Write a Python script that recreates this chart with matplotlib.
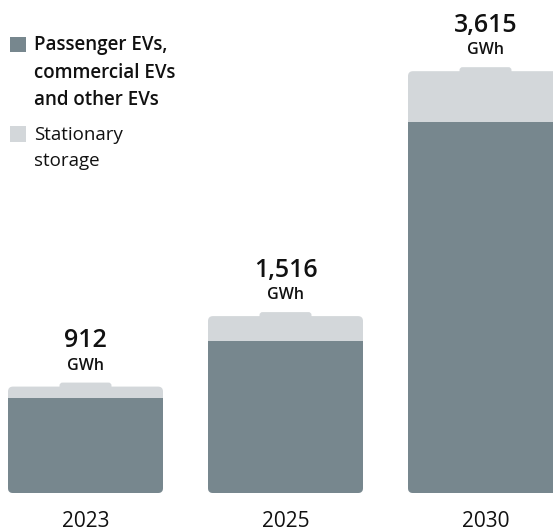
import matplotlib
matplotlib.use("Agg")
import matplotlib.pyplot as plt
from matplotlib.patches import FancyBboxPatch, Rectangle

plt.rcParams['font.family'] = ['Open Sans', 'DejaVu Sans']

years = ["2023", "2025", "2030"]
ev = [815, 1300, 3180]
storage = [97, 216, 435]
totals = [912, 1516, 3615]
total_labels = ["912", "1,516", "3,615"]
legend_labels = ["Passenger EVs,\ncommercial EVs\nand other EVs", "Stationary\nstorage"]

DARK = "#77878e"
LIGHT = "#d3d7da"

W, H = 553, 531
fig = plt.figure(figsize=(W / 100, H / 100), dpi=100)
bottom_px = 38
ax = fig.add_axes([0, bottom_px / H, 1, (H - bottom_px) / H])
px_y = 8.57            # GWh per pixel
px_x = 1 / 200.0       # category units per pixel
ax.set_ylim(0, (H - bottom_px) * px_y)
ax.set_xlim(-85.5 * px_x, (W - 85.5) * px_x)
for s in ax.spines.values():
    s.set_visible(False)
ax.set_yticks([])

bw = 155 * px_x
aspect = px_y / px_x
r = 5 * px_x
tab_w = 52 * px_x
tab_h = 4 * px_y

for i, (e, s, t) in enumerate(zip(ev, storage, totals)):
    tot = e + s
    tab = FancyBboxPatch((i - tab_w / 2, tot - 20 * px_y), tab_w, 20 * px_y + tab_h,
                         boxstyle=f"round,pad=0,rounding_size={3 * px_x}",
                         mutation_aspect=aspect, fc=LIGHT, ec="none", zorder=1)
    ax.add_patch(tab)
    body = FancyBboxPatch((i - bw / 2, 0), bw, tot,
                          boxstyle=f"round,pad=0,rounding_size={r}",
                          mutation_aspect=aspect, fc=LIGHT, ec="none", zorder=2)
    ax.add_patch(body)
    bars = ax.bar(i, e, width=bw, color=DARK, zorder=3)
    for b in bars:
        b.set_clip_path(body)
    ax.annotate("GWh", (i, tot + tab_h), xytext=(0, 17), textcoords="offset pixels",
                ha="center", va="center", fontsize=11.5, fontweight="semibold", color="#111111")
    ax.annotate(total_labels[i], (i, tot + tab_h), xytext=(0, 42), textcoords="offset pixels",
                ha="center", va="center", fontsize=18, fontweight="semibold", color="#111111")

ax.set_xticks(range(len(years)))
ax.set_xticklabels(years, fontsize=15, color="#111111")
ax.tick_params(axis="x", length=0, pad=13)

def fy(py):
    return 1 - py / H

fig.patches.append(Rectangle((10 / W, fy(52)), 16 / W, 15 / H, transform=fig.transFigure,
                             fc=DARK, ec="none"))
fig.text(34 / W, fy(35), legend_labels[0], ha="left", va="top", fontsize=13.5,
         fontweight="semibold", linespacing=1.5, color="#111111")
fig.patches.append(Rectangle((10 / W, fy(142)), 16 / W, 16 / H, transform=fig.transFigure,
                             fc=LIGHT, ec="none"))
fig.text(34 / W, fy(126), legend_labels[1], ha="left", va="top", fontsize=13.5,
         linespacing=1.58, color="#111111")

fig.savefig("out.png", dpi=100)
